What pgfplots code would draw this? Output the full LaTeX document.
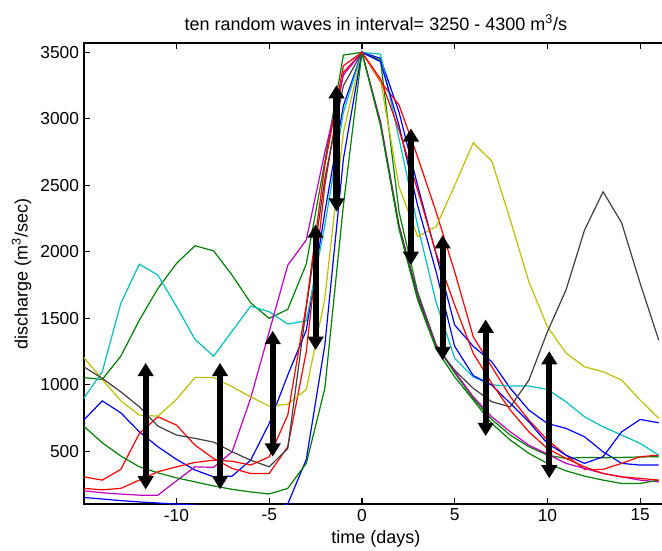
\documentclass[border=0pt]{standalone}
\usepackage{fontspec}
\setmainfont{Liberation Sans}
\usepackage{pgfplots}
\usepackage{pgfplotstable}
\pgfplotsset{compat=1.18}
\usetikzlibrary{arrows.meta}

\definecolor{mBlue}{rgb}{0,0,1}
\definecolor{mGreen}{rgb}{0,0.5,0}
\definecolor{mRed}{rgb}{1,0,0}
\definecolor{mCyan}{rgb}{0,0.75,0.75}
\definecolor{mMagenta}{rgb}{0.75,0,0.75}
\definecolor{mYellow}{rgb}{0.75,0.75,0}
\definecolor{mGray}{rgb}{0.25,0.25,0.25}

\tikzset{
  wave/.style={line width=0.9pt, #1},
  dblarr/.style={black, line width=4.6pt,
    {Triangle[width=11.5pt,length=10pt]}-{Triangle[width=11.5pt,length=10pt]}}
}

% discharge of the ten waves, one column per wave
\pgfplotstableread{
t    bA    gA    rA    cy    mg    yl    gy    bB    gB    rB
-15  735   1055  309   898   204   1207  1136  154   690   222
-14  880   1041  284   1099  189   1041  1049  142   565   211
-13  790   1216  365   1613  179   880   948   130   465   222
-12  647   1487  635   1908  171   773   835   120   384   284
-11  535   1725  760   1825  171   765   690   112   339   347
-10  440   1913  698   1590  279   891   623   104   301   384
-9   360   2046  547   1342  384   1056  598   96    271   417
-8   309   2008  447   1216  380   1056  570   85    240   434
-7   314   1825  372   1404  497   986   497   70    215   426
-6   434   1617  334   1592  900   910   434   60    195   397
-5   710   1500  334   1550  1400  840   384   60    180   459
-4   1074  1568  535   1457  1900  855   522   104   222   773
-3   1412  1910  1250  1482  2090  966   1580  440   410   1600
-2   2300  2680  2500  2200  2750  1650  2550  1300  974   2650
-1   3100  3480  3350  3050  3330  2900  3250  2700  2350  3400
0    3500  3500  3500  3500  3500  3500  3500  3500  3500  3500
1    3455  3440  3280  3487  2980  3290  2960  3430  2950  3300
2    3050  2300  3104  2850  2200  2490  2190  2950  2170  2916
3    2500  1700  2715  2200  1680  2115  1660  2350  1640  2465
4    1980  1300  2300  1620  1300  2190  1290  1850  1270  1989
5    1450  1090  1850  1200  1100  2500  1110  1290  1060  1600
6    1290  900   1362  1060  911   2820  974   1070  886   1237
7    1174  740   1136  1000  760   2683  873   998   710   1011
8    974   622   911   991   647   2239  835   861   585   810
9    810   535   735   991   547   1775  1036  722   485   647
10   710   472   585   966   480   1437  1400  560   410   522
11   673   447   472   873   410   1240  1713  472   354   447
12   610   455   365   760   372   1136  2164  410   314   384
13   497   452   365   685   334   1099  2452  460   284   334
14   410   455   410   623   309   1036  2219  647   259   309
15   397   458   460   560   284   886   1763  740   259   297
16   397   460   472   472   271   748   1337  715   284   284
}\waves

\begin{document}
\begin{tikzpicture}
\useasboundingbox (-62.8pt,-35pt) rectangle (433.7pt,378.25pt);
\begin{axis}[
  at={(0,0)}, anchor=south west,
  scale only axis, width=438.2pt, height=345.75pt,
  xmin=-15, xmax=16.5, ymin=102, ymax=3568,
  xtick={-10,-5,...,15}, ytick={500,1000,...,3500},
  tick align=inside, major tick length=4.5pt,
  tick style={black, line width=0.9pt},
  axis line style={line width=1.4pt},
  scaled ticks=false,
  /pgf/number format/1000 sep={},
  /pgf/number format/assume math mode=true,
  tick label style={font=\fontsize{13}{15}\selectfont},
  label style={font=\fontsize{13.5}{15}\selectfont},
  title style={font=\fontsize{13.5}{15}\selectfont},
  title={ten random waves in interval= 3250 - 4300 m\textsuperscript{3}/s},
  xlabel={time (days)},
  ylabel={discharge (m\textsuperscript{3}/sec)},
]
\addplot[wave=mBlue]    table[x=t, y=bA] {\waves};
\addplot[wave=mGreen]   table[x=t, y=gA] {\waves};
\addplot[wave=mRed]     table[x=t, y=rA] {\waves};
\addplot[wave=mCyan]    table[x=t, y=cy] {\waves};
\addplot[wave=mMagenta] table[x=t, y=mg] {\waves};
\addplot[wave=mYellow]  table[x=t, y=yl] {\waves};
\addplot[wave=mGray]    table[x=t, y=gy] {\waves};
\addplot[wave=mBlue]    table[x=t, y=bB] {\waves};
\addplot[wave=mGreen]   table[x=t, y=gB] {\waves};
\addplot[wave=mRed]     table[x=t, y=rB] {\waves};
% range arrows
\addplot[dblarr] coordinates {(-11.66,214) (-11.66,1166)};
\addplot[dblarr] coordinates {(-7.65,214) (-7.65,1166)};
\addplot[dblarr] coordinates {(-4.81,460) (-4.81,1407)};
\addplot[dblarr] coordinates {(-2.5,1262) (-2.5,2207)};
\addplot[dblarr] coordinates {(-1.37,2302) (-1.37,3254)};
\addplot[dblarr] coordinates {(2.64,1901) (2.64,2929)};
\addplot[dblarr] coordinates {(4.35,1186) (4.35,2126)};
\addplot[dblarr] coordinates {(6.67,615) (6.67,1492)};
\addplot[dblarr] coordinates {(10.1,297) (10.1,1254)};
\end{axis}
\end{tikzpicture}
\end{document}
